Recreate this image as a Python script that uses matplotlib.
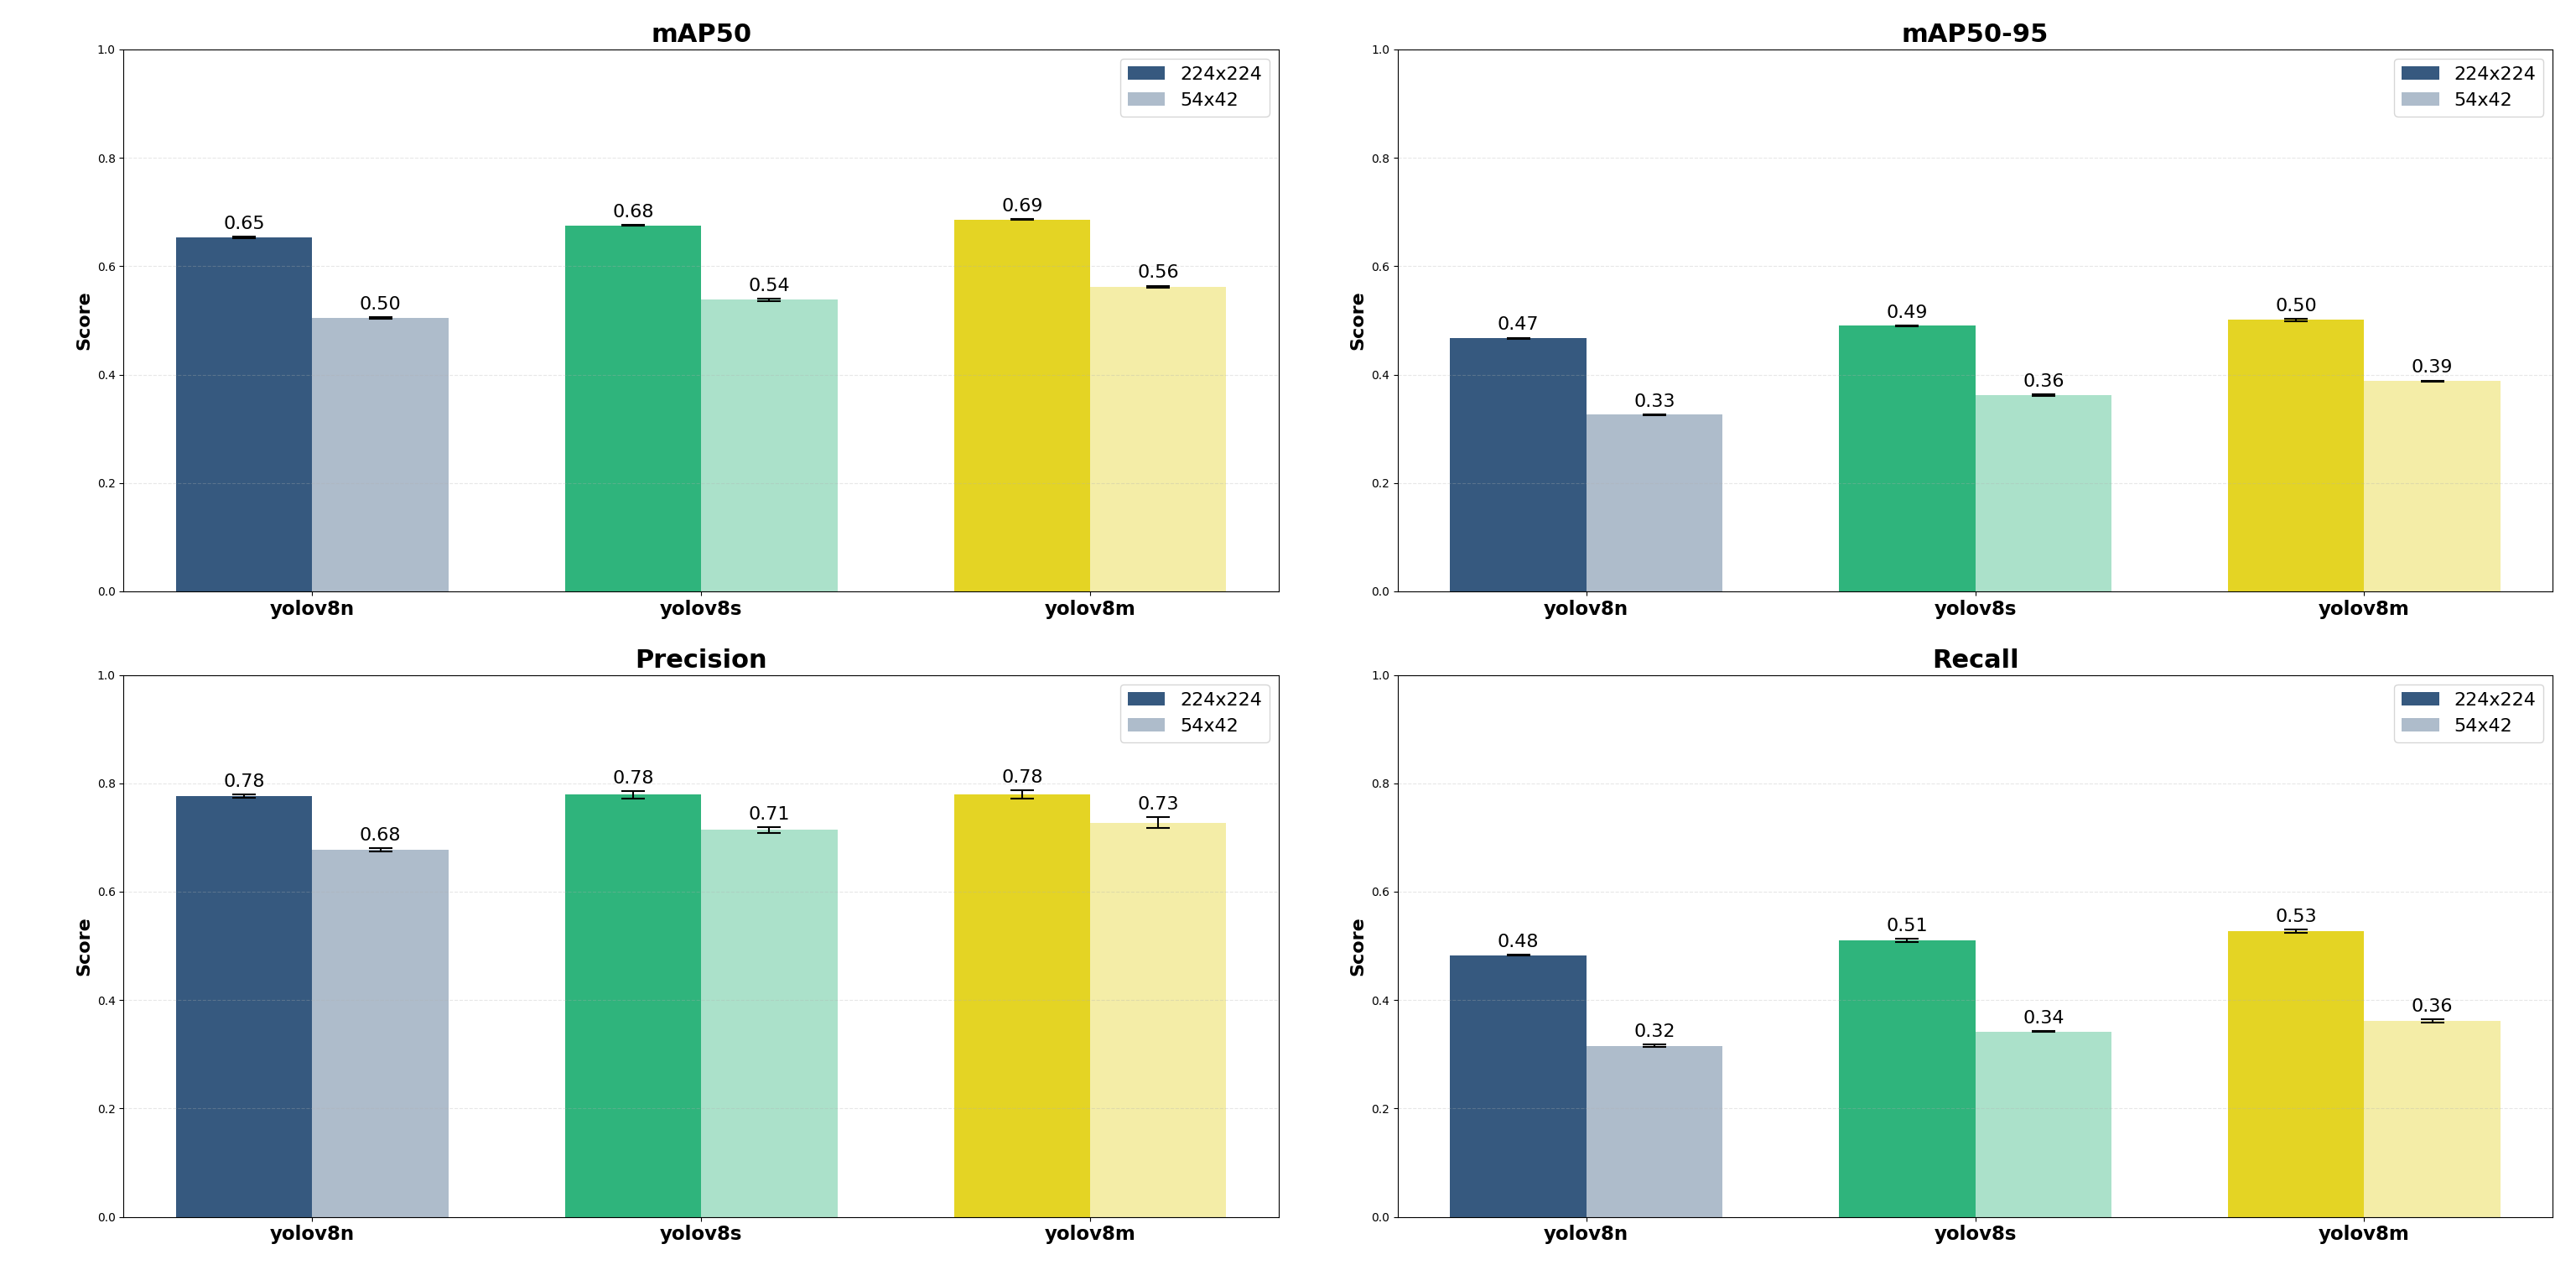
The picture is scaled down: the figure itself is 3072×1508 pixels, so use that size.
import matplotlib.pyplot as plt
import numpy as np

MODELS = ['yolov8n', 'yolov8s', 'yolov8m']
RESOLUTIONS = ['224x224', '54x42']
COLORS = ['#36597f', '#2fb47c', '#e4d424']

METRICS = ['mAP50', 'mAP50-95', 'Precision', 'Recall']

map50_224 = [0.653, 0.675, 0.686]
map50_224_err = [0.0015, 0.001, 0.001]
map50_54 = [0.504, 0.538, 0.562]
map50_54_err = [0.0015, 0.002, 0.002]

map5095_224 = [0.467, 0.490, 0.501]
map5095_224_err = [0.001, 0.001, 0.002]
map5095_54 = [0.326, 0.362, 0.388]
map5095_54_err = [0.001, 0.001, 0.001]

precision_224 = [0.776, 0.779, 0.779]
precision_224_err = [0.003, 0.007, 0.008]
precision_54 = [0.677, 0.714, 0.727]
precision_54_err = [0.003, 0.005, 0.010]

recall_224 = [0.483, 0.510, 0.527]
recall_224_err = [0.001, 0.003, 0.003]
recall_54 = [0.316, 0.342, 0.361]
recall_54_err = [0.002, 0.001, 0.003]

DATA = {
    'mAP50': (map50_224, map50_224_err, map50_54, map50_54_err),
    'mAP50-95': (map5095_224, map5095_224_err, map5095_54, map5095_54_err),
    'Precision': (precision_224, precision_224_err, precision_54, precision_54_err),
    'Recall': (recall_224, recall_224_err, recall_54, recall_54_err),
}

WIDTH = 0.35


def plot_metric(ax, metric):
    hi, hi_err, lo, lo_err = DATA[metric]
    x = np.arange(len(MODELS))
    for i in range(len(MODELS)):
        ax.bar(x[i] - WIDTH / 2, hi[i], WIDTH, yerr=hi_err[i], capsize=10,
               color=COLORS[i], error_kw={'elinewidth': 1.5, 'capthick': 1.5},
               label=RESOLUTIONS[0] if i == 0 else None)
        ax.bar(x[i] + WIDTH / 2, lo[i], WIDTH, yerr=lo_err[i], capsize=10,
               color=COLORS[i], alpha=0.4, error_kw={'elinewidth': 1.5, 'capthick': 1.5},
               label=RESOLUTIONS[1] if i == 0 else None)
        ax.text(x[i] - WIDTH / 2, hi[i] + hi_err[i] + 0.008, f'{hi[i]:.2f}',
                ha='center', va='bottom', fontsize=16)
        ax.text(x[i] + WIDTH / 2, lo[i] + lo_err[i] + 0.008, f'{lo[i]:.2f}',
                ha='center', va='bottom', fontsize=16)

    ax.set_title(metric, fontsize=22, fontweight='bold')
    ax.set_ylabel('Score', fontsize=16, fontweight='bold')
    ax.set_xticks(x)
    ax.set_xticklabels(MODELS, fontsize=16.5, fontweight='bold')
    ax.set_ylim(0, 1.0)
    ax.grid(axis='y', linestyle='--', alpha=0.3)
    ax.legend(fontsize=16, loc='upper right')


if __name__ == '__main__':
    fig, axes = plt.subplots(2, 2, figsize=(30.72, 15.08), dpi=100)
    for ax, metric in zip(axes.flat, METRICS):
        plot_metric(ax, metric)
    plt.subplots_adjust(left=0.048, right=0.991, top=0.961, bottom=0.038,
                        wspace=0.103, hspace=0.154)
    plt.savefig('out.png', dpi=100)
